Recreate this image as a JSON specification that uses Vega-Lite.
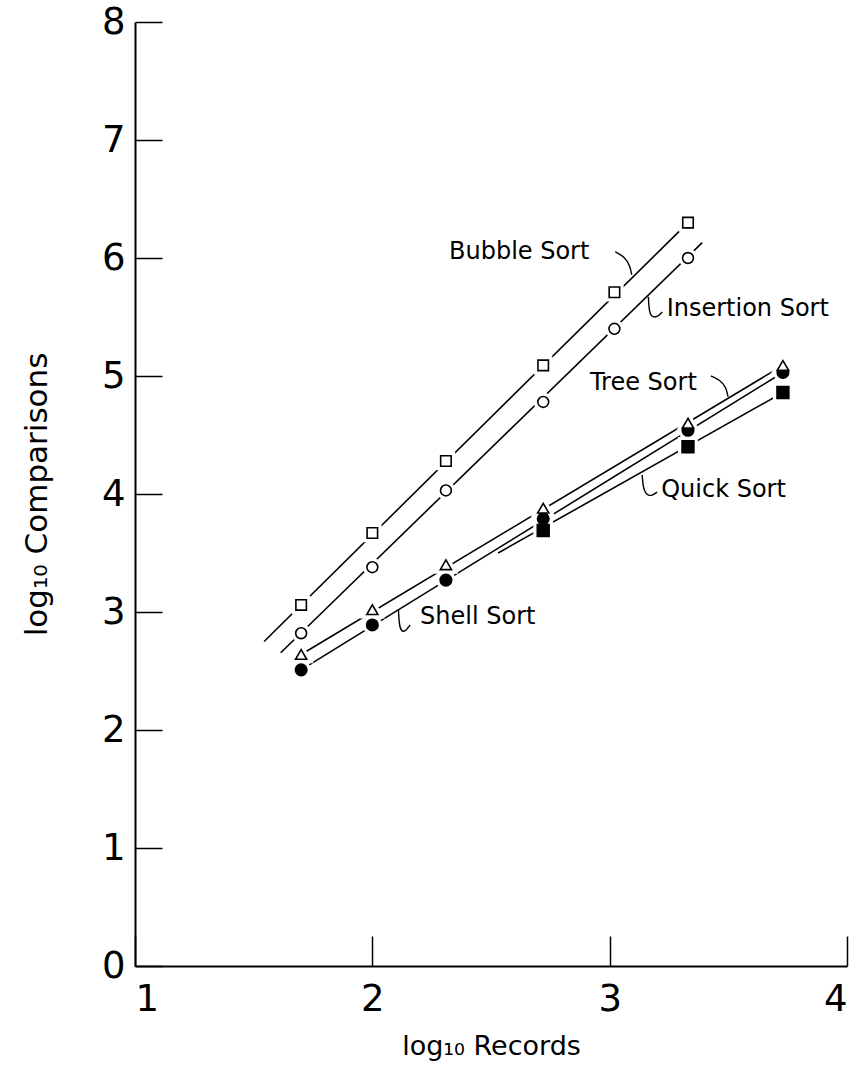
{
  "$schema": "https://vega.github.io/schema/vega-lite/v6.json",
  "width": 712,
  "height": 944,
  "autosize": "none",
  "padding": {"left": 135, "top": 22, "right": 14, "bottom": 124},
  "background": "white",
  "config": {
    "view": {"stroke": null},
    "font": "DejaVu Sans",
    "axis": {
      "grid": false,
      "domainColor": "black",
      "domainWidth": 2,
      "tickColor": "black",
      "tickWidth": 1.5,
      "labelColor": "black",
      "titleColor": "black",
      "labelFont": "DejaVu Sans",
      "titleFont": "DejaVu Sans",
      "labelFontWeight": "normal",
      "titleFontWeight": "normal"
    }
  },
  "datasets": {
    "pts": [
      {"series": "Bubble", "x": 1.70, "y": 3.06},
      {"series": "Bubble", "x": 2.00, "y": 3.67},
      {"series": "Bubble", "x": 2.31, "y": 4.28},
      {"series": "Bubble", "x": 2.72, "y": 5.09},
      {"series": "Bubble", "x": 3.02, "y": 5.71},
      {"series": "Bubble", "x": 3.33, "y": 6.30},
      {"series": "Insertion", "x": 1.70, "y": 2.82},
      {"series": "Insertion", "x": 2.00, "y": 3.38},
      {"series": "Insertion", "x": 2.31, "y": 4.03},
      {"series": "Insertion", "x": 2.72, "y": 4.78},
      {"series": "Insertion", "x": 3.02, "y": 5.40},
      {"series": "Insertion", "x": 3.33, "y": 6.00},
      {"series": "Quick", "x": 2.72, "y": 3.69},
      {"series": "Quick", "x": 3.33, "y": 4.40},
      {"series": "Quick", "x": 3.73, "y": 4.86},
      {"series": "Shell", "x": 1.70, "y": 2.51},
      {"series": "Shell", "x": 2.00, "y": 2.89},
      {"series": "Shell", "x": 2.31, "y": 3.27},
      {"series": "Shell", "x": 2.72, "y": 3.79},
      {"series": "Shell", "x": 3.33, "y": 4.54},
      {"series": "Shell", "x": 3.73, "y": 5.03},
      {"series": "Tree", "x": 1.70, "y": 2.64},
      {"series": "Tree", "x": 2.00, "y": 3.02},
      {"series": "Tree", "x": 2.31, "y": 3.40},
      {"series": "Tree", "x": 2.72, "y": 3.88},
      {"series": "Tree", "x": 3.33, "y": 4.60},
      {"series": "Tree", "x": 3.73, "y": 5.09}
    ],
    "fits": [
      {"series": "Bubble", "x": 1.544, "y": 2.75},
      {"series": "Bubble", "x": 3.33, "y": 6.30},
      {"series": "Insertion", "x": 1.614, "y": 2.655},
      {"series": "Insertion", "x": 3.39, "y": 6.13},
      {"series": "Tree", "x": 1.70, "y": 2.64},
      {"series": "Tree", "x": 3.73, "y": 5.09},
      {"series": "Shell", "x": 1.70, "y": 2.51},
      {"series": "Shell", "x": 3.73, "y": 5.03},
      {"series": "Quick", "x": 2.53, "y": 3.50},
      {"series": "Quick", "x": 3.73, "y": 4.86}
    ],
    "hooks": [
      {"hook": "Bubble", "i": 0, "x": 3.023, "y": 6.053},
      {"hook": "Bubble", "i": 1, "x": 3.065, "y": 6.008},
      {"hook": "Bubble", "i": 2, "x": 3.086, "y": 5.932},
      {"hook": "Bubble", "i": 3, "x": 3.093, "y": 5.856},
      {"hook": "Insertion", "i": 0, "x": 3.163, "y": 5.672},
      {"hook": "Insertion", "i": 1, "x": 3.166, "y": 5.559},
      {"hook": "Insertion", "i": 2, "x": 3.174, "y": 5.503},
      {"hook": "Insertion", "i": 3, "x": 3.200, "y": 5.496},
      {"hook": "Insertion", "i": 4, "x": 3.221, "y": 5.542},
      {"hook": "Tree", "i": 0, "x": 3.427, "y": 5.000},
      {"hook": "Tree", "i": 1, "x": 3.465, "y": 4.966},
      {"hook": "Tree", "i": 2, "x": 3.490, "y": 4.907},
      {"hook": "Tree", "i": 3, "x": 3.499, "y": 4.825},
      {"hook": "Quick", "i": 0, "x": 3.137, "y": 4.161},
      {"hook": "Quick", "i": 1, "x": 3.141, "y": 4.051},
      {"hook": "Quick", "i": 2, "x": 3.154, "y": 3.992},
      {"hook": "Quick", "i": 3, "x": 3.179, "y": 3.983},
      {"hook": "Quick", "i": 4, "x": 3.200, "y": 4.017},
      {"hook": "Shell", "i": 0, "x": 2.110, "y": 3.017},
      {"hook": "Shell", "i": 1, "x": 2.113, "y": 2.898},
      {"hook": "Shell", "i": 2, "x": 2.121, "y": 2.839},
      {"hook": "Shell", "i": 3, "x": 2.138, "y": 2.831},
      {"hook": "Shell", "i": 4, "x": 2.159, "y": 2.890}
    ],
    "labels": [
      {"label": "Bubble Sort", "x": 2.323, "y": 6.05},
      {"label": "Insertion Sort", "x": 3.24, "y": 5.57},
      {"label": "Tree Sort", "x": 2.917, "y": 4.94},
      {"label": "Quick Sort", "x": 3.217, "y": 4.03},
      {"label": "Shell Sort", "x": 2.201, "y": 2.955}
    ]
  },
  "encoding": {
    "x": {
      "field": "x",
      "type": "quantitative",
      "scale": {"domain": [1, 4], "nice": false, "zero": false},
      "axis": {
        "values": [1, 2, 3, 4],
        "format": "d",
        "tickSize": -30,
        "labelFontSize": 37,
        "labelPadding": 45,
        "title": "log₁₀ Records",
        "titleFontSize": 27,
        "titlePadding": 16
      }
    },
    "y": {
      "field": "y",
      "type": "quantitative",
      "scale": {"domain": [0, 8], "nice": false, "zero": false},
      "axis": {
        "values": [0, 1, 2, 3, 4, 5, 6, 7, 8],
        "format": "d",
        "tickSize": -27,
        "labelFontSize": 37,
        "labelPadding": 37,
        "title": "log₁₀ Comparisons",
        "titleFontSize": 31,
        "titlePadding": 48
      }
    }
  },
  "layer": [
    {
      "data": {"name": "fits"},
      "mark": {"type": "line", "stroke": "black", "strokeWidth": 1.6},
      "encoding": {"detail": {"field": "series", "type": "nominal"}}
    },
    {
      "data": {"name": "hooks"},
      "mark": {"type": "line", "stroke": "black", "strokeWidth": 1.4, "interpolate": "basis"},
      "encoding": {
        "detail": {"field": "hook", "type": "nominal"},
        "order": {"field": "i", "type": "quantitative"}
      }
    },
    {
      "data": {"name": "pts"},
      "mark": {"type": "point", "stroke": "white", "fill": "white", "strokeWidth": 8, "opacity": 1},
      "encoding": {
        "shape": {
          "field": "series", "type": "nominal", "legend": null,
          "scale": {"domain": ["Bubble", "Insertion", "Tree", "Shell", "Quick"], "range": ["square", "circle", "triangle-up", "circle", "square"]}
        },
        "size": {
          "field": "series", "type": "nominal", "legend": null,
          "scale": {"domain": ["Bubble", "Insertion", "Tree", "Shell", "Quick"], "range": [110, 140, 150, 150, 100]}
        }
      }
    },
    {
      "data": {"name": "pts"},
      "mark": {"type": "point", "stroke": "black", "strokeWidth": 1.6, "opacity": 1, "fillOpacity": 1},
      "encoding": {
        "shape": {
          "field": "series", "type": "nominal", "legend": null,
          "scale": {"domain": ["Bubble", "Insertion", "Tree", "Shell", "Quick"], "range": ["square", "circle", "triangle-up", "circle", "square"]}
        },
        "size": {
          "field": "series", "type": "nominal", "legend": null,
          "scale": {"domain": ["Bubble", "Insertion", "Tree", "Shell", "Quick"], "range": [110, 140, 150, 150, 100]}
        },
        "fill": {
          "field": "series", "type": "nominal", "legend": null,
          "scale": {"domain": ["Bubble", "Insertion", "Tree", "Shell", "Quick"], "range": ["white", "white", "white", "black", "black"]}
        }
      }
    },
    {
      "data": {"name": "labels"},
      "mark": {"type": "text", "align": "left", "baseline": "middle", "fontSize": 24, "font": "DejaVu Sans", "color": "black"},
      "encoding": {"text": {"field": "label", "type": "nominal"}}
    }
  ]
}
